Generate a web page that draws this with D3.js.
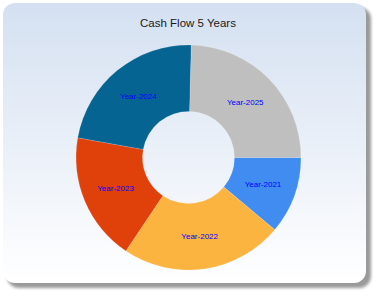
<!DOCTYPE html>
<html lang="en">
<head>
    <meta charset="UTF-8">
    <title>Cash Flow 5 Years</title>
    <script src="https://d3js.org/d3.v7.min.js"></script>
    <style>
        body { margin: 0; background: #fff; }
    </style>
</head>
<body>
<div id="chart"></div>
<script>
    const years = ["Year-2021", "Year-2022", "Year-2023", "Year-2024", "Year-2025"];
    const cashFlow = [111, 233, 184, 226, 246];
    const palette = ["#418CF0", "#FCB441", "#E0400A", "#056492", "#BFBFBF"];

    function createChart(width, height) {
        const svg = d3.select("#chart").append("svg")
            .attr("width", width)
            .attr("height", height);

        const defs = svg.append("defs");
        const grad = defs.append("linearGradient")
            .attr("id", "bg")
            .attr("x1", 0).attr("y1", 0).attr("x2", 0).attr("y2", 1);
        grad.append("stop").attr("offset", "0%").attr("stop-color", "#d4e0f1");
        grad.append("stop").attr("offset", "100%").attr("stop-color", "#ffffff");

        const blur = defs.append("filter").attr("id", "soft")
            .attr("x", "-10%").attr("y", "-10%").attr("width", "120%").attr("height", "120%");
        blur.append("feGaussianBlur").attr("stdDeviation", 1.6);

        // panel shadow + panel
        svg.append("rect")
            .attr("x", 7).attr("y", 7)
            .attr("width", 364).attr("height", 281)
            .attr("rx", 12)
            .attr("fill", "#9a9a9a")
            .attr("filter", "url(#soft)");
        svg.append("rect")
            .attr("x", 3).attr("y", 3)
            .attr("width", 363).attr("height", 280)
            .attr("rx", 12)
            .attr("fill", "url(#bg)");

        svg.append("text")
            .attr("x", 188)
            .attr("y", 27)
            .attr("text-anchor", "middle")
            .attr("font-family", "Liberation Sans, Arial, sans-serif")
            .attr("font-size", 11.5)
            .attr("fill", "#1a1a1a")
            .text("Cash Flow 5 Years");

        const cx = 188.5, cy = 157.5;
        const outer = 112.5, inner = 46;

        const color = d3.scaleOrdinal().domain(years).range(palette);

        const pie = d3.pie()
            .sort(null)
            .value(d => d.value)
            .startAngle(Math.PI / 2)
            .endAngle(Math.PI / 2 + 2 * Math.PI);

        const arc = d3.arc().innerRadius(inner).outerRadius(outer);

        const data = years.map((y, i) => ({ year: y, value: cashFlow[i] }));
        const arcs = pie(data);

        const g = svg.append("g").attr("transform", `translate(${cx},${cy})`);

        g.selectAll("path")
            .data(arcs)
            .join("path")
            .attr("d", arc)
            .attr("fill", d => color(d.data.year))
            .attr("stroke", "rgba(255,255,255,0.25)")
            .attr("stroke-width", 0.6);

        g.selectAll("text")
            .data(arcs)
            .join("text")
            .attr("transform", d => `translate(${arc.centroid(d)})`)
            .attr("text-anchor", "middle")
            .attr("dy", "0.35em")
            .attr("font-family", "Liberation Sans, Arial, sans-serif")
            .attr("font-size", 8)
            .attr("fill", "#0000ff")
            .text(d => d.data.year);

        return svg.node();
    }

    document.addEventListener('DOMContentLoaded', () => {
        createChart(380, 296);
    });
</script>
</body>
</html>
